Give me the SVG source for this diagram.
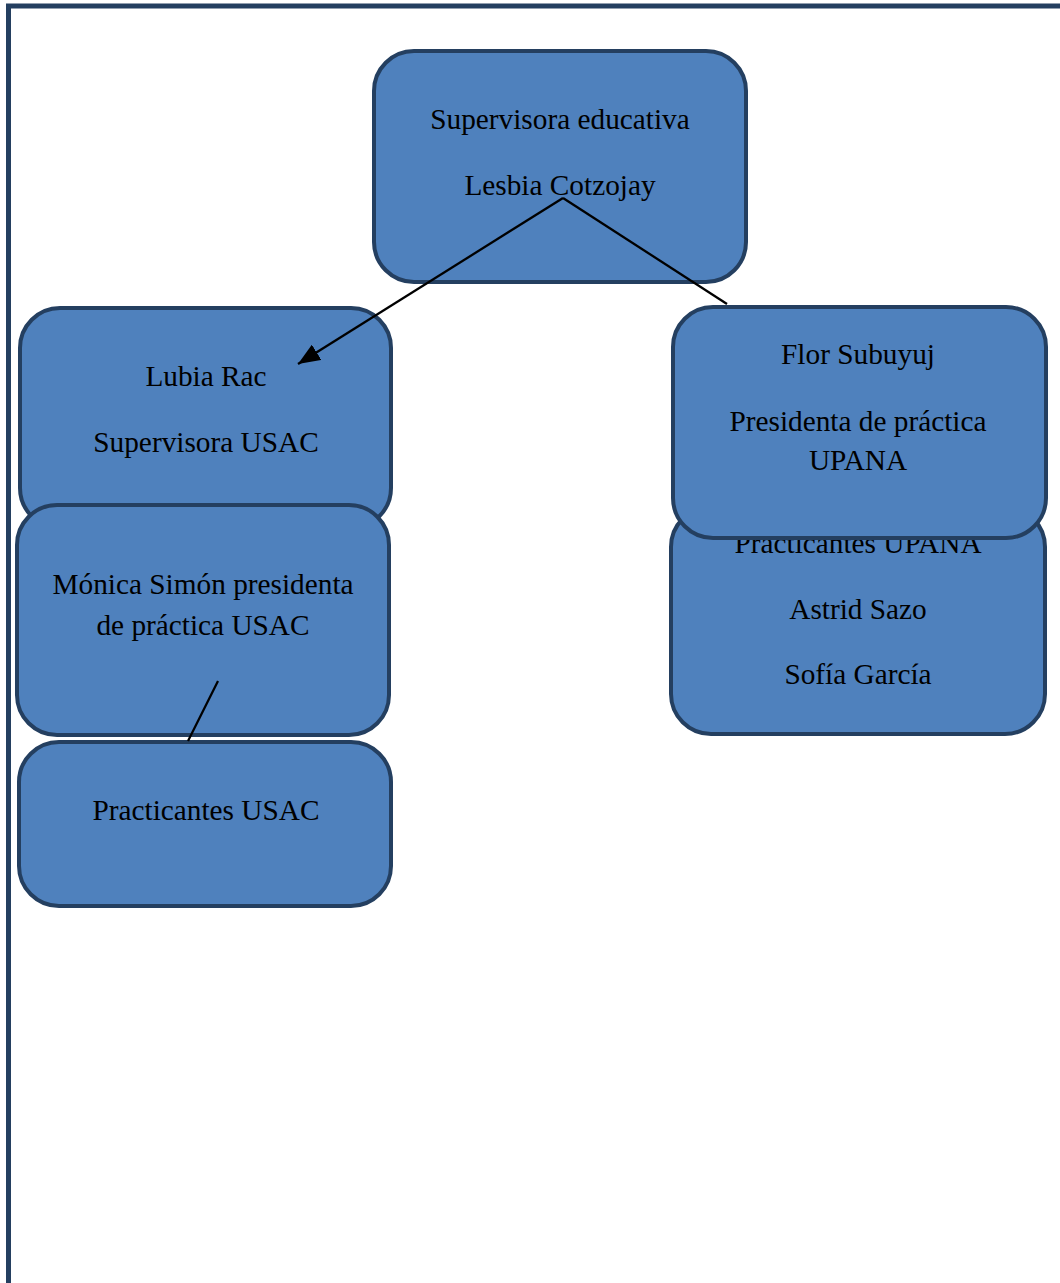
<svg xmlns="http://www.w3.org/2000/svg" width="1060" height="1283" viewBox="0 0 1060 1283">
<style>
.box{fill:#4F81BD;stroke:#243F60;stroke-width:4}
.t{font-family:"Liberation Serif","Times New Roman",serif;font-size:29.3px;fill:#000;text-anchor:middle}
.c{stroke:#000;stroke-width:2.3;fill:none}
</style>
<defs>
<marker id="arr" markerUnits="userSpaceOnUse" markerWidth="24" markerHeight="18" refX="22" refY="9" orient="auto">
<path d="M0,0 L22,9 L0,18 Z" fill="#000"/>
</marker>
</defs>
<rect width="1060" height="1283" fill="#fff"/>
<rect x="8.5" y="6" width="1200" height="1400" fill="none" stroke="#243F60" stroke-width="5"/>
<g id="n-supervisora">
<rect class="box" x="374" y="51" width="372" height="231" rx="40"/>
<text class="t" x="560" y="129">Supervisora educativa</text>
<text class="t" x="560" y="195">Lesbia Cotzojay</text>
</g>
<g id="n-lubia">
<rect class="box" x="20" y="308" width="371" height="220" rx="40"/>
<text class="t" x="206" y="386">Lubia Rac</text>
<text class="t" x="206" y="452">Supervisora USAC</text>
</g>
<g id="n-monica">
<rect class="box" x="17" y="505" width="372" height="230" rx="40"/>
<text class="t" x="203" y="594">Mónica Simón presidenta</text>
<text class="t" x="203" y="635">de práctica USAC</text>
</g>
<g id="n-practicantes-usac">
<rect class="box" x="19" y="742" width="372" height="164" rx="40"/>
<text class="t" x="206" y="820">Practicantes USAC</text>
</g>
<g id="n-practicantes-upana">
<rect class="box" x="671" y="507" width="374" height="227" rx="40"/>
<text class="t" x="858" y="553">Practicantes UPANA</text>
<text class="t" x="858" y="619">Astrid Sazo</text>
<text class="t" x="858" y="684">Sofía García</text>
</g>
<g id="n-flor">
<rect class="box" x="673" y="307" width="373" height="231" rx="40"/>
<text class="t" x="858" y="364">Flor Subuyuj</text>
<text class="t" x="858" y="431">Presidenta de práctica</text>
<text class="t" x="858" y="470">UPANA</text>
</g>
<g id="connectors">
<line class="c" x1="563" y1="198" x2="298" y2="364" marker-end="url(#arr)"/>
<line class="c" x1="563" y1="198" x2="727" y2="304"/>
<line class="c" x1="218" y1="681" x2="188" y2="741"/>
</g>
</svg>
